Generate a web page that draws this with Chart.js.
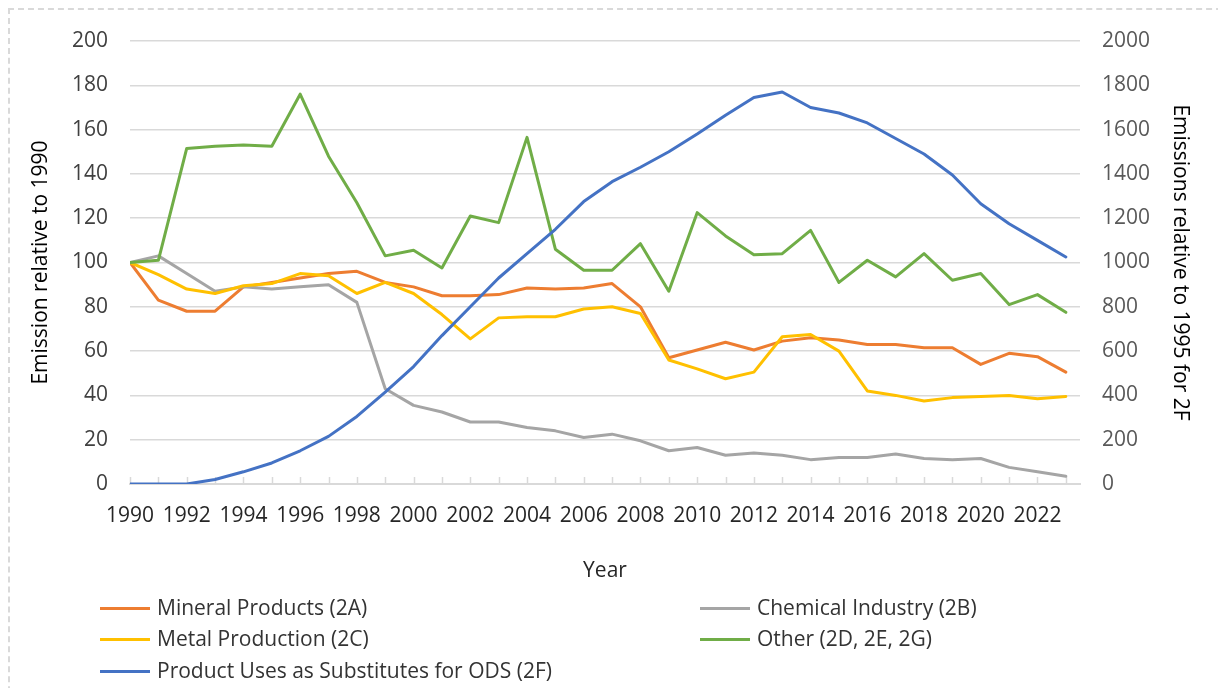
<!DOCTYPE html>
<html>
<head>
<meta charset="utf-8">
<script src="https://cdn.jsdelivr.net/npm/chart.js@4.4.1/dist/chart.umd.min.js"></script>
<style>
  body { margin: 0; background: #fff; }
  #wrap { position: relative; width: 1218px; height: 688px; overflow: hidden; font-family: "Open Sans", sans-serif; }
  #frame { position: absolute; left: 8px; top: 8px; width: 1260px; height: 740px; border: 2px dashed #d9d9d9; }
  #chart { position: absolute; left: 0; top: 0; }
  .item { position: absolute; height: 26px; line-height: 26px; font-size: 21px; color: #333; white-space: nowrap; }
  .item span.swatch { display: inline-block; width: 50px; height: 3px; vertical-align: middle; margin-right: 7px; margin-top: -2px; }
</style>
</head>
<body>
<div id="wrap">
  <div id="frame"></div>
  <canvas id="chart" width="1218" height="688"></canvas>
  <div id="legend"></div>
</div>
<script>
const years = [1990, 1991, 1992, 1993, 1994, 1995, 1996, 1997, 1998, 1999,
  2000, 2001, 2002, 2003, 2004, 2005, 2006, 2007, 2008, 2009,
  2010, 2011, 2012, 2013, 2014, 2015, 2016, 2017, 2018, 2019,
  2020, 2021, 2022, 2023];
const yearLabels = [1990, 1992, 1994, 1996, 1998, 2000, 2002, 2004, 2006, 2008, 2010,
  2012, 2014, 2016, 2018, 2020, 2022];

const mineral = [100, 83, 78, 78, 89, 91, 93, 95, 96, 91, 89, 85, 85, 85.5, 88.5, 88, 88.5, 90.5,
  80, 57, 60.5, 64, 60.5, 64.5, 66, 65, 63, 63, 61.5, 61.5, 54, 59, 57.5, 50.5];
const chemical = [100, 103, 95, 87, 89, 88, 89, 90, 82, 43, 35.5, 32.5, 28, 28, 25.5, 24, 21, 22.5,
  19.5, 15, 16.5, 13, 14, 13, 11, 12, 12, 13.5, 11.5, 11, 11.5, 7.5, 5.5, 3.5];
const metal = [100, 94.5, 88, 86, 89.5, 90.5, 95, 94, 86, 91, 86, 76.5, 65.5, 75, 75.5, 75.5, 79, 80,
  77, 56, 52, 47.5, 50.5, 66.5, 67.5, 60, 42, 40, 37.5, 39, 39.5, 40, 38.5, 39.5];
const other = [100, 101, 151.5, 152.5, 153, 152.5, 176, 148, 127, 103, 105.5, 97.5, 121, 118, 156.5,
  106, 96.5, 96.5, 108.5, 87, 122.5, 112, 103.5, 104, 114.5, 91, 101, 93.5, 104, 92, 95, 81, 85.5, 77.5];
const ods = [0, 0, 0, 20, 55, 95, 150, 215, 305, 415, 530, 670, 800, 930, 1040, 1150, 1275, 1365,
  1430, 1500, 1580, 1665, 1745, 1770, 1700, 1675, 1630, 1560, 1490, 1395, 1265, 1175, 1100, 1025];

const leftTicks = [0, 20, 40, 60, 80, 100, 120, 140, 160, 180, 200];
const rightTicks = [0, 200, 400, 600, 800, 1000, 1200, 1400, 1600, 1800, 2000];

function pts(vals) {
  return vals.map((v, i) => ({ x: years[i], y: v }));
}

function line(label, vals, color, axis, order) {
  return {
    label: label,
    data: pts(vals),
    borderColor: color,
    backgroundColor: color,
    borderWidth: 3,
    pointRadius: 0,
    tension: 0,
    borderJoinStyle: 'round',
    borderCapStyle: 'round',
    yAxisID: axis,
    order: order
  };
}

// small tick marks pointing up into the plot, one per year
const innerTicks = {
  id: 'innerTicks',
  beforeDatasetsDraw(c) {
    const sx = c.scales.x, ctx = c.ctx;
    const base = c.chartArea.bottom;
    ctx.save();
    ctx.strokeStyle = '#d9d9d9';
    ctx.lineWidth = 1.5;
    ctx.beginPath();
    years.forEach(y => {
      const px = Math.round(sx.getPixelForValue(y)) + 0.5;
      ctx.moveTo(px, base);
      ctx.lineTo(px, base - 7);
    });
    ctx.stroke();
    ctx.restore();
  }
};

Chart.defaults.font.family = '"Open Sans", sans-serif';
Chart.defaults.font.size = 21;

const chart = new Chart(document.getElementById('chart').getContext('2d'), {
  type: 'line',
  data: {
    datasets: [
      line('Mineral Products (2A)', mineral, '#ED7D31', 'y', 5),
      line('Chemical Industry (2B)', chemical, '#A5A5A5', 'y', 4),
      line('Metal Production (2C)', metal, '#FFC000', 'y', 3),
      line('Other (2D, 2E, 2G)', other, '#70AD47', 'y', 2),
      line('Product Uses as Substitutes for ODS (2F)', ods, '#4472C4', 'y2', 1)
    ]
  },
  options: {
    responsive: false,
    animation: false,
    devicePixelRatio: 1,
    layout: { padding: { left: 20, right: 18, top: 41, bottom: 104 } },
    plugins: { legend: { display: false }, tooltip: { enabled: false } },
    scales: {
      x: {
        type: 'linear',
        min: years[0],
        max: years[years.length - 1] + 0.5,
        afterFit: s => { s.height = 100; },
        afterBuildTicks: s => { s.ticks = years.map(v => ({ value: v })); },
        ticks: {
          autoSkip: false,
          maxRotation: 0,
          minRotation: 0,
          padding: 19,
          color: '#262626',
          callback: v => yearLabels.includes(v) ? String(v) : ''
        },
        grid: { drawOnChartArea: false, drawTicks: false },
        border: { display: true, color: '#d9d9d9', width: 2 },
        title: { display: true, text: 'Year', color: '#262626', padding: { top: 0, bottom: 0 } }
      },
      y: {
        position: 'left',
        min: 0,
        max: 200,
        afterFit: s => { s.width = 110; },
        afterBuildTicks: s => { s.ticks = leftTicks.map(v => ({ value: v })); },
        ticks: { padding: 22, color: '#404040', callback: v => String(v) },
        grid: { drawTicks: false, color: '#d9d9d9', lineWidth: 1.5 },
        border: { display: false },
        title: { display: true, text: 'Emission relative to 1990', color: '#000', padding: { top: 8, bottom: 0 } }
      },
      y2: {
        position: 'right',
        min: 0,
        max: 2000,
        afterFit: s => { s.width = 120; },
        afterBuildTicks: s => { s.ticks = rightTicks.map(v => ({ value: v })); },
        ticks: { padding: 22, color: '#595959', callback: v => String(v) },
        grid: { drawOnChartArea: false, drawTicks: false },
        border: { display: false },
        title: { display: true, text: 'Emissions relative to 1995 for 2F', color: '#000', padding: { top: 7, bottom: 0 } }
      }
    }
  },
  plugins: [innerTicks]
});

// legend laid out in two columns like the original
const legendCols = [100, 700];
const legendRows = [607, 638, 670];
const legendBox = document.getElementById('legend');
chart.data.datasets.forEach((ds, i) => {
  const item = document.createElement('div');
  item.className = 'item';
  item.style.left = legendCols[i % 2] + 'px';
  item.style.top = (legendRows[Math.floor(i / 2)] - 13) + 'px';
  const sw = document.createElement('span');
  sw.className = 'swatch';
  sw.style.background = ds.borderColor;
  item.appendChild(sw);
  item.appendChild(document.createTextNode(ds.label));
  legendBox.appendChild(item);
});
</script>
</body>
</html>
